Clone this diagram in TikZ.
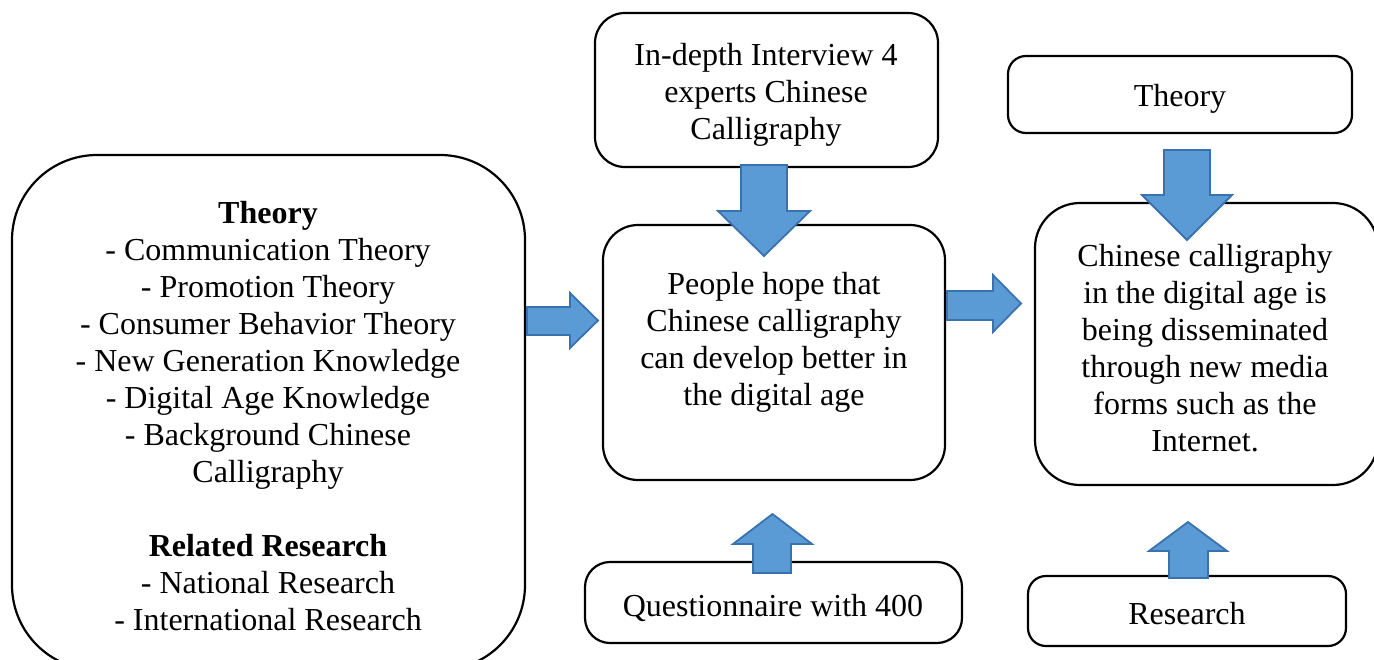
\documentclass[tikz,border=0pt]{standalone}
\usepackage{fontspec}
\setmainfont{Liberation Serif}
\begin{document}
\begin{tikzpicture}[x=1pt,y=-1pt,
  box/.style={draw=black,line width=2.2pt,inner sep=0pt,fill=white},
  txt/.style={align=center,inner sep=0pt,font=\fontsize{32}{37}\selectfont},
  blockarrow/.style={fill=arrowfill,draw=arrowline,line width=1.8pt,line join=miter}]
\definecolor{arrowfill}{HTML}{5B9BD5}
\definecolor{arrowline}{HTML}{3A72AE}
\useasboundingbox (0,0) rectangle (1374,659);

% boxes
\node[box,rounded corners=85pt,minimum width=513pt,minimum height=515pt] (lit) at (268.5,412.5) {};
\node[box,rounded corners=30pt,minimum width=343pt,minimum height=154pt] (interview) at (766.5,90) {};
\node[box,rounded corners=35pt,minimum width=342pt,minimum height=255pt] (hope) at (774,352.5) {};
\node[box,rounded corners=25pt,minimum width=377pt,minimum height=81pt] (quest) at (773.5,602.5) {};
\node[box,rounded corners=18pt,minimum width=344pt,minimum height=77pt] (theory) at (1180,94.5) {};
\node[box,rounded corners=45pt,minimum width=343pt,minimum height=282pt] (result) at (1206.5,344) {};
\node[box,rounded corners=18pt,minimum width=318pt,minimum height=70pt] (research) at (1187,611) {};

% texts
\node[txt] (littext) at (268,416) {\textbf{Theory}\\- Communication Theory\\- Promotion Theory\\- Consumer Behavior Theory\\- New Generation Knowledge\\- Digital Age Knowledge\\- Background Chinese\\Calligraphy\\[37pt]\textbf{Related Research}\\- National Research\\- International Research};
\node[txt] (interviewtext) at (766,95) {In-depth Interview 4\\experts Chinese\\Calligraphy};
\node[txt] (hopetext) at (774,342) {People hope that\\Chinese calligraphy\\can develop better in\\the digital age};
\node[txt] (questtext) at (773,608) {Questionnaire with 400};
\node[txt] (theorytext) at (1180,99) {Theory};
\node[txt] (resulttext) at (1205,348) {Chinese calligraphy\\in the digital age is\\being disseminated\\through new media\\forms such as the\\Internet.};
\node[txt] (researchtext) at (1187,614) {Research};

% block arrows
\draw[blockarrow] (527,307) -- (570,307) -- (570,293) -- (598,320.5) -- (570,348) -- (570,335) -- (527,335) -- cycle;
\draw[blockarrow] (741,165) -- (787,165) -- (787,211) -- (810,211) -- (764,256) -- (718,211) -- (741,211) -- cycle;
\draw[blockarrow] (753,573) -- (791,573) -- (791,544) -- (812,544) -- (772.5,514) -- (733,544) -- (753,544) -- cycle;
\draw[blockarrow] (947,291) -- (993,291) -- (993,275) -- (1021,303.5) -- (993,332) -- (993,320) -- (947,320) -- cycle;
\draw[blockarrow] (1164,150) -- (1210,150) -- (1210,195) -- (1232,195) -- (1187,240) -- (1142,195) -- (1164,195) -- cycle;
\draw[blockarrow] (1169,578) -- (1208,578) -- (1208,551) -- (1227,551) -- (1188,522) -- (1149,551) -- (1169,551) -- cycle;
\end{tikzpicture}
\end{document}
